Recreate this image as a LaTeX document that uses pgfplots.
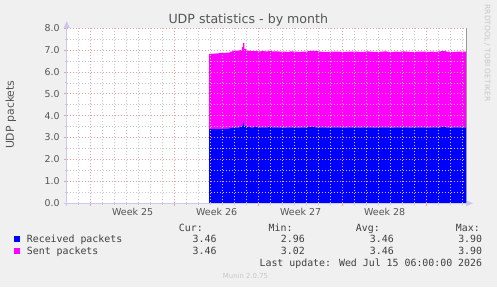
\documentclass[border=0pt]{standalone}
\usepackage{pgfplots}
\pgfplotsset{compat=1.18}
\usepackage{fontspec}
\setmainfont{DejaVu Sans}
\newfontfamily\mono{DejaVu Sans Mono}
\definecolor{bg}{HTML}{F0F0F0}
\definecolor{rec}{HTML}{0000FF}
\definecolor{sent}{HTML}{FF00FF}
\definecolor{majgrid}{HTML}{E8A0A0}
\definecolor{mingrid}{HTML}{C8C8C8}
\definecolor{txt}{HTML}{555555}
\definecolor{ltxt}{HTML}{404040}
\definecolor{axcol}{HTML}{C8C8F0}
\definecolor{faint}{HTML}{C8C8C8}

\pgfplotstableread{
x rec sent
11.86 3.38 3.44
12.10 3.40 3.43
12.40 3.39 3.45
12.70 3.41 3.45
13.00 3.40 3.47
13.30 3.42 3.46
13.60 3.44 3.48
13.80 3.47 3.50
14.10 3.46 3.51
14.40 3.49 3.50
14.60 3.56 3.57
14.70 3.67 3.65
14.80 3.55 3.50
14.95 3.48 3.49
15.30 3.47 3.48
15.60 3.49 3.46
15.90 3.46 3.47
16.20 3.47 3.48
16.50 3.46 3.47
16.80 3.48 3.48
17.10 3.46 3.47
17.40 3.47 3.46
17.70 3.46 3.46
18.00 3.45 3.47
18.30 3.46 3.45
18.60 3.47 3.46
18.90 3.46 3.46
19.20 3.45 3.46
19.50 3.47 3.45
19.80 3.46 3.46
20.10 3.48 3.46
20.40 3.49 3.47
20.70 3.47 3.47
21.00 3.46 3.46
21.30 3.46 3.45
21.60 3.45 3.46
21.90 3.46 3.46
22.20 3.47 3.45
22.50 3.46 3.46
22.80 3.46 3.45
23.10 3.45 3.46
23.40 3.46 3.46
23.70 3.47 3.45
24.00 3.46 3.46
24.30 3.45 3.46
24.60 3.46 3.45
24.90 3.47 3.46
25.20 3.46 3.46
25.50 3.45 3.46
25.80 3.46 3.45
26.10 3.46 3.46
26.40 3.47 3.46
26.70 3.46 3.45
27.00 3.45 3.46
27.30 3.46 3.46
27.60 3.46 3.45
27.90 3.47 3.46
28.20 3.46 3.46
28.50 3.45 3.46
28.80 3.46 3.45
29.10 3.46 3.46
29.40 3.47 3.45
29.70 3.46 3.46
30.00 3.45 3.46
30.30 3.46 3.46
30.60 3.46 3.45
30.90 3.47 3.46
31.20 3.48 3.46
31.40 3.49 3.45
31.60 3.46 3.46
31.90 3.45 3.46
32.20 3.46 3.45
32.50 3.46 3.46
32.80 3.47 3.45
33.10 3.46 3.46
33.333 3.46 3.46
}\udpdata

\begin{document}
\begin{tikzpicture}[x=1pt,y=1pt]
\useasboundingbox (0,0) rectangle (497,287);
\fill[bg] (0,0) rectangle (497,287);
\begin{axis}[
  at={(66.7pt,83.7pt)}, anchor=south west,
  scale only axis, width=400pt, height=175.3pt,
  xmin=0, xmax=33.333, ymin=0, ymax=8,
  axis background/.style={fill=white},
  axis line style={draw=none},
  axis on top,
  xtick={2,9,16,23,30}, xticklabels={},
  minor xtick={1,...,33},
  ytick={0,...,8}, minor ytick={0.5,1.5,...,7.5},
  grid=both,
  major grid style={majgrid, line width=0.5pt, dash pattern=on 1pt off 2pt},
  minor grid style={mingrid, line width=0.5pt, dash pattern=on 1pt off 2pt},
  xtick pos=left, ytick pos=left,
  tick align=outside,
  major tick length=2.5pt, minor tick length=1.5pt,
  every major tick/.append style={majgrid, line width=0.6pt},
  every minor tick/.append style={mingrid, line width=0.6pt},
  /pgf/number format/assume math mode=true,
  y tick label style={/pgf/number format/.cd, fixed, fixed zerofill, precision=1, /tikz/.cd,
     font=\fontsize{9.4}{10}\selectfont, text=txt, xshift=-1pt},
  stack plots=y,
  const plot,
]
\addplot[fill=rec, draw=none] table[x=x, y=rec] {\udpdata} \closedcycle;
\addplot[fill=sent, draw=none] table[x=x, y=sent] {\udpdata} \closedcycle;
\end{axis}
% axis lines
\draw[axcol, line width=0.8pt] (66.7,81) -- (66.7,259);
\fill[axcol] (63.7,259) -- (69.7,259) -- (66.7,266) -- cycle;
\draw[axcol, line width=0.8pt] (64,83.7) -- (466,83.7);
\fill[axcol] (466,80.7) -- (466,86.7) -- (473,83.7) -- cycle;
\draw[gray!80, line width=0.7pt] (466.7,83.7) -- (466.7,259);
% week labels
\foreach \d/\w in {5.5/25, 12.5/26, 19.5/27, 26.5/28}
  \node[anchor=base, inner sep=0, text=txt, font=\fontsize{9.5}{10}\selectfont] at ({66.7+12*\d},71.2) {Week \w};
% title
\node[anchor=base, inner sep=0, text=txt, font=\fontsize{12.6}{14}\selectfont] at (248.3,263) {UDP statistics - by month};
% y label
\node[rotate=90, inner sep=0, text=txt, font=\fontsize{10.9}{12}\selectfont] at (10.8,172.3) {UDP packets};
% right credit
\node[rotate=-90, inner sep=0, text=faint, font=\fontsize{7.5}{8}\selectfont] at (487.3,234) {RRDTOOL / TOBI OETIKER};
% legend
\begin{scope}[every node/.style={inner sep=0, text=ltxt, font=\mono\fontsize{9.9}{11}\selectfont}]
\node[anchor=base east] at (203,55.7) {Cur:};
\node[anchor=base east] at (292.7,55.7) {Min:};
\node[anchor=base east] at (380,55.7) {Avg:};
\node[anchor=base east] at (480,55.7) {Max:};
\fill[rec] (14,44.7) rectangle (20,50.7);
\node[anchor=base west] at (26.7,44.1) {Received packets};
\node[anchor=base east] at (216.7,44.1) {3.46};
\node[anchor=base east] at (305,44.1) {2.96};
\node[anchor=base east] at (394,44.1) {3.46};
\node[anchor=base east] at (482.3,44.1) {3.90};
\fill[sent] (14,33) rectangle (20,39);
\node[anchor=base west] at (26.7,32.4) {Sent packets};
\node[anchor=base east] at (216.7,32.4) {3.46};
\node[anchor=base east] at (305,32.4) {3.02};
\node[anchor=base east] at (394,32.4) {3.46};
\node[anchor=base east] at (482.3,32.4) {3.90};
\node[anchor=base east] at (482.3,20.1) {Last update: Wed Jul 15 06:00:00 2026};
\end{scope}
\node[inner sep=0, text=faint, font=\fontsize{6.9}{8}\selectfont] at (245.5,11) {Munin 2.0.75};
\end{tikzpicture}
\end{document}
